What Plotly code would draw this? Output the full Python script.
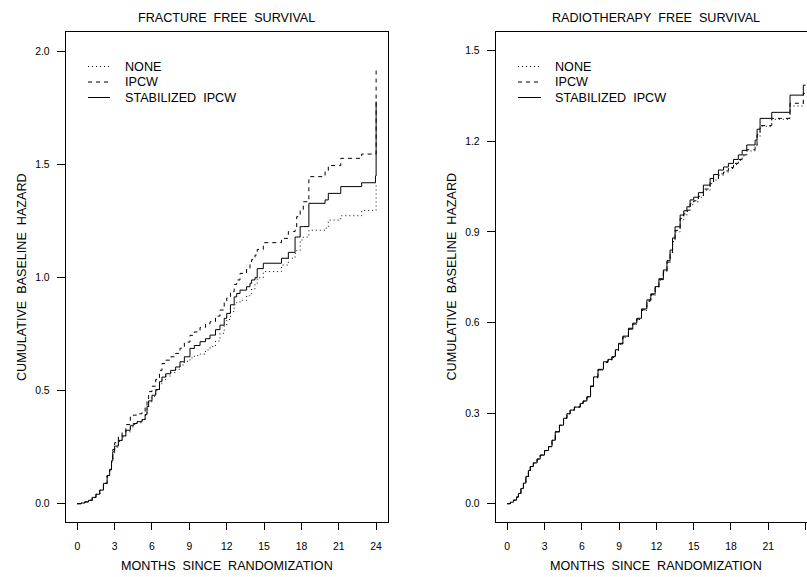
import plotly.graph_objects as go

W, H = 807, 577

# ---------------- data ----------------
SERIES = ["NONE", "IPCW", "STABILIZED  IPCW"]
DASHES = ["1px,3px", "4px,4px", "solid"]

X_TICKS = [0, 3, 6, 9, 12, 15, 18, 21, 24]
LEFT_Y_TICKS = [0.0, 0.5, 1.0, 1.5, 2.0]
LEFT_Y_TEXT = ["0.0", "0.5", "1.0", "1.5", "2.0"]
RIGHT_Y_TICKS = [0.0, 0.3, 0.6, 0.9, 1.2, 1.5]
RIGHT_Y_TEXT = ["0.0", "0.3", "0.6", "0.9", "1.2", "1.5"]

# Fracture free survival (months, cumulative baseline hazard)
FX = [0, 0.3, 0.6, 0.9, 1.2, 1.5, 1.8, 2.1, 2.4, 2.6,
      2.75, 2.85, 3.0, 3.3, 3.6, 3.9, 4.26, 4.5, 4.8, 5.2,
      5.45, 5.6, 5.73, 6.0, 6.3, 6.6, 6.8, 7.1, 7.5, 7.9,
      8.25, 8.6, 9.05, 9.4, 9.86, 10.3, 10.66, 11.1, 11.46, 11.8,
      12.0, 12.3, 12.6, 12.8, 13.07, 13.6, 13.87, 14.0, 14.27, 14.45,
      14.94, 16.4, 16.95, 17.49, 17.62, 17.9, 18.15, 18.6, 19.9, 20.16,
      21.16, 22.84, 23.95, 24.0]
F_NONE = [0, 0.003, 0.008, 0.015, 0.028, 0.042, 0.06, 0.09, 0.125, 0.148,
          0.185, 0.225, 0.25, 0.275, 0.295, 0.318, 0.34, 0.35, 0.358, 0.37,
          0.39, 0.42, 0.45, 0.475, 0.50, 0.53, 0.55, 0.565, 0.58, 0.595,
          0.614, 0.63, 0.645, 0.655, 0.662, 0.68, 0.695, 0.72, 0.754, 0.79,
          0.815, 0.85, 0.88, 0.89, 0.90, 0.92, 0.93, 0.95, 0.975, 1.0,
          1.027, 1.056, 1.086, 1.108, 1.12, 1.167, 1.18, 1.21, 1.219, 1.255,
          1.274, 1.297, 1.297, 1.418]
F_IPCW = [0, 0.003, 0.008, 0.015, 0.028, 0.042, 0.06, 0.09, 0.125, 0.152,
          0.195, 0.24, 0.27, 0.30, 0.32, 0.35, 0.385, 0.392, 0.398, 0.407,
          0.43, 0.46, 0.496, 0.52, 0.55, 0.59, 0.62, 0.635, 0.65, 0.665,
          0.688, 0.715, 0.745, 0.76, 0.78, 0.795, 0.805, 0.83, 0.857, 0.89,
          0.91, 0.938, 0.97, 0.99, 1.019, 1.04, 1.063, 1.08, 1.10, 1.125,
          1.155, 1.174, 1.204, 1.21, 1.27, 1.30, 1.336, 1.447, 1.469, 1.496,
          1.528, 1.547, 1.547, 1.934]
F_STAB = [0, 0.003, 0.008, 0.015, 0.028, 0.042, 0.06, 0.09, 0.125, 0.15,
          0.19, 0.23, 0.255, 0.28, 0.30, 0.325, 0.345, 0.355, 0.363, 0.372,
          0.395, 0.43, 0.455, 0.48, 0.505, 0.54, 0.56, 0.575, 0.59, 0.605,
          0.628, 0.65, 0.687, 0.70, 0.717, 0.73, 0.746, 0.77, 0.79, 0.82,
          0.842, 0.88, 0.915, 0.93, 0.945, 0.96, 0.975, 0.99, 1.0, 1.04,
          1.064, 1.086, 1.112, 1.18, 1.18, 1.226, 1.226, 1.329, 1.344, 1.373,
          1.403, 1.42, 1.45, 1.78]

# Radiotherapy free survival
RX = [0.0, 0.25, 0.5, 0.75, 0.9, 1.1, 1.3, 1.5, 1.7, 1.85,
      2.1, 2.4, 2.65, 3.0, 3.32, 3.6, 3.86, 4.2, 4.53, 4.8,
      5.06, 5.4, 5.87, 6.1, 6.41, 6.7, 6.94, 7.3, 7.74, 8.1,
      8.42, 8.7, 8.95, 9.3, 9.75, 10.1, 10.42, 10.8, 11.23, 11.55,
      11.9, 12.2, 12.56, 12.85, 13.1, 13.3, 13.5, 13.91, 14.2, 14.45,
      14.71, 15.0, 15.38, 15.78, 16.32, 16.6, 16.99, 17.4, 17.79, 18.2,
      18.59, 18.9, 19.27, 19.94, 20.1, 20.34, 21.28, 22.75, 23.82, 24.0]
R_STAB = [0.0, 0.005, 0.012, 0.022, 0.034, 0.05, 0.068, 0.09, 0.11, 0.123,
          0.135, 0.148, 0.161, 0.176, 0.189, 0.21, 0.238, 0.26, 0.283, 0.298,
          0.31, 0.32, 0.332, 0.34, 0.354, 0.39, 0.42, 0.445, 0.47, 0.478,
          0.487, 0.51, 0.531, 0.555, 0.581, 0.598, 0.614, 0.645, 0.675, 0.695,
          0.719, 0.745, 0.774, 0.805, 0.84, 0.88, 0.917, 0.956, 0.97, 0.983,
          1.006, 1.015, 1.03, 1.055, 1.077, 1.09, 1.105, 1.115, 1.127, 1.14,
          1.155, 1.17, 1.188, 1.204, 1.24, 1.276, 1.296, 1.353, 1.386, 1.386]
R_IPCW = [0.0, 0.005, 0.012, 0.022, 0.034, 0.05, 0.068, 0.09, 0.11, 0.123,
          0.135, 0.148, 0.161, 0.176, 0.189, 0.21, 0.238, 0.26, 0.283, 0.298,
          0.31, 0.32, 0.332, 0.34, 0.354, 0.388, 0.418, 0.443, 0.468, 0.476,
          0.485, 0.508, 0.529, 0.552, 0.578, 0.595, 0.611, 0.642, 0.672, 0.692,
          0.717, 0.742, 0.77, 0.80, 0.833, 0.872, 0.905, 0.945, 0.96, 0.972,
          0.993, 1.003, 1.018, 1.042, 1.064, 1.077, 1.092, 1.102, 1.113, 1.127,
          1.14, 1.155, 1.172, 1.188, 1.222, 1.252, 1.276, 1.326, 1.359, 1.359]
R_NONE = [0.0, 0.005, 0.012, 0.022, 0.034, 0.05, 0.068, 0.09, 0.11, 0.123,
          0.135, 0.148, 0.161, 0.176, 0.189, 0.21, 0.238, 0.26, 0.283, 0.298,
          0.31, 0.32, 0.332, 0.34, 0.354, 0.387, 0.417, 0.442, 0.467, 0.475,
          0.484, 0.507, 0.528, 0.551, 0.577, 0.594, 0.61, 0.64, 0.67, 0.69,
          0.716, 0.74, 0.768, 0.798, 0.83, 0.868, 0.90, 0.94, 0.955, 0.968,
          0.99, 1.0, 1.015, 1.038, 1.06, 1.072, 1.088, 1.098, 1.11, 1.123,
          1.137, 1.152, 1.168, 1.184, 1.215, 1.25, 1.273, 1.317, 1.33, 1.33]

TITLES = ["FRACTURE\u00a0 FREE\u00a0 SURVIVAL", "RADIOTHERAPY\u00a0 FREE\u00a0 SURVIVAL"]
XTITLE = "MONTHS\u00a0 SINCE\u00a0 RANDOMIZATION"
YTITLE = "CUMULATIVE\u00a0 BASELINE\u00a0 HAZARD"

FONT = "Liberation Sans, Arial, Helvetica, sans-serif"
INK = "#000000"


def px(p):
    return p / W


def py(p):
    return 1 - p / H


fig = go.Figure()

left = [(FX, F_NONE), (FX, F_IPCW), (FX, F_STAB)]
right = [(RX, R_NONE), (RX, R_IPCW), (RX, R_STAB)]
for (xs, ys), name, dash in zip(left, SERIES, DASHES):
    fig.add_trace(go.Scatter(x=xs, y=ys, mode="lines", line_shape="hv",
                             line=dict(color=INK, width=1, dash=dash),
                             name=name, showlegend=False, xaxis="x", yaxis="y"))
for (xs, ys), name, dash in zip(right, SERIES, DASHES):
    fig.add_trace(go.Scatter(x=xs, y=ys, mode="lines", line_shape="hv",
                             line=dict(color=INK, width=1, dash=dash),
                             name=name, showlegend=False, xaxis="x2", yaxis="y2"))

frame_top, frame_bot = 32.0, 521.7
L0, L1 = 65.7, 387.7
R0 = 495.7
ydom = [py(frame_bot), py(frame_top)]

common_x = dict(showline=True, linecolor=INK, linewidth=1, ticks="outside",
                ticklen=7, tickcolor=INK, tickwidth=1, showgrid=False, zeroline=False,
                tickvals=X_TICKS, ticktext=[str(v) for v in X_TICKS],
                tickfont=dict(family=FONT, size=10.4, color=INK),
                ticklabelstandoff=8, fixedrange=True)
common_y = dict(showline=True, linecolor=INK, linewidth=1, ticks="outside",
                ticklen=8, tickcolor=INK, tickwidth=1, showgrid=False, zeroline=False,
                tickfont=dict(family=FONT, size=10.4, color=INK),
                ticklabelstandoff=5, fixedrange=True)

fig.update_layout(
    width=W, height=H,
    margin=dict(l=0, r=0, t=0, b=0),
    paper_bgcolor="white", plot_bgcolor="white",
    font=dict(family=FONT, color=INK),
    xaxis=dict(domain=[px(L0), px(L1)], range=[-0.93, 24.93], mirror=True, anchor="y", **common_x),
    yaxis=dict(domain=ydom, range=[-0.0796, 2.087], mirror=True, anchor="x",
               tickvals=LEFT_Y_TICKS, ticktext=LEFT_Y_TEXT, **common_y),
    xaxis2=dict(domain=[px(R0), 1.0], range=[-0.93, (W - 507.0) / 12.44], mirror=True,
                anchor="y2", **common_x),
    yaxis2=dict(domain=ydom, range=[-0.0596, 1.562], mirror=False, anchor="x2",
                tickvals=RIGHT_Y_TICKS, ticktext=RIGHT_Y_TEXT, **common_y),
)

annotations = []
shapes = []
centers = [226.7, 656.0]
ytitle_x = [22.0, 451.5]
legend_line = [(88.0, 110.0), (518.0, 541.0)]
legend_text_x = [123.0, 552.5]
legend_y = [66.5, 82.0, 97.5]

for i in range(2):
    annotations.append(dict(text=TITLES[i], x=px(centers[i]), y=py(18.0), xref="paper", yref="paper",
                            showarrow=False, xanchor="center", yanchor="middle",
                            font=dict(family=FONT, size=12.6, color=INK)))
    annotations.append(dict(text=XTITLE, x=px(centers[i]), y=py(565.5), xref="paper", yref="paper",
                            showarrow=False, xanchor="center", yanchor="middle",
                            font=dict(family=FONT, size=12.6, color=INK)))
    annotations.append(dict(text=YTITLE, x=px(ytitle_x[i]), y=py(277.0), xref="paper", yref="paper",
                            showarrow=False, xanchor="center", yanchor="middle", textangle=-90,
                            font=dict(family=FONT, size=12.6, color=INK)))
    for name, dash, ly in zip(SERIES, DASHES, legend_y):
        shapes.append(dict(type="line", xref="paper", yref="paper",
                           x0=px(legend_line[i][0]), x1=px(legend_line[i][1]), y0=py(ly), y1=py(ly),
                           line=dict(color=INK, width=1, dash=dash)))
        annotations.append(dict(text=name, x=px(legend_text_x[i]), y=py(ly), xref="paper", yref="paper",
                                showarrow=False, xanchor="left", yanchor="middle",
                                font=dict(family=FONT, size=12.6, color=INK)))

fig.update_layout(annotations=annotations, shapes=shapes)

fig.write_html("out.html", config={"displayModeBar": False})
